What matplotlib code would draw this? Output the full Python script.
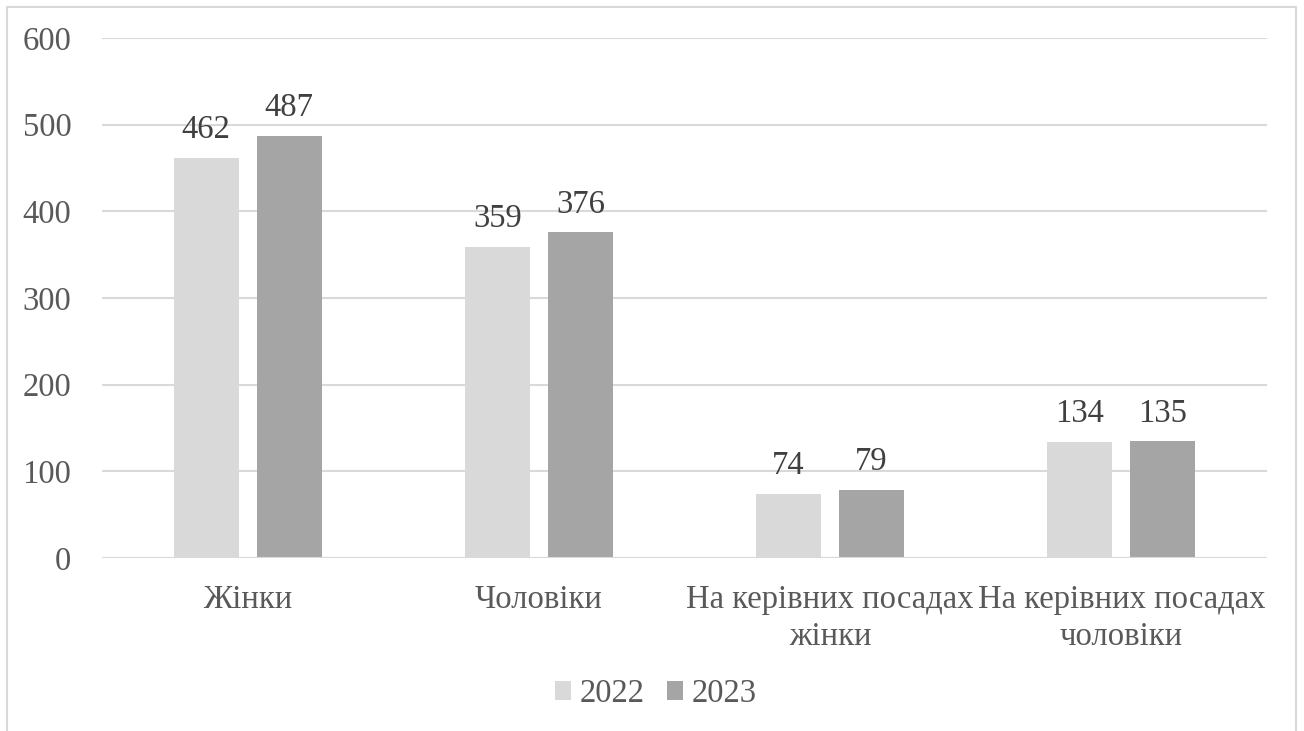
import matplotlib
matplotlib.use("Agg")
import matplotlib.pyplot as plt
import numpy as np
from matplotlib.patches import Rectangle

categories = ["Жінки", "Чоловіки", "На керівних посадах\nжінки", "На керівних посадах\nчоловіки"]
series_names = ["2022", "2023"]
values_2022 = [462, 359, 74, 134]
values_2023 = [487, 376, 79, 135]
yticks = [0, 100, 200, 300, 400, 500, 600]

plt.rcParams['font.family'] = ['Liberation Serif', 'DejaVu Serif']
txt = '#595959'
fs = 23.5
fig = plt.figure(figsize=(13.04, 7.31), dpi=100)
fig.patches.append(Rectangle((7/1304, -0.01), (1296-7)/1304, 1 - 7/731 + 0.01,
                             transform=fig.transFigure, fill=False, edgecolor='#D9D9D9', linewidth=1.5))
ax = fig.add_axes([102/1304, 1 - 558/731, (1267-102)/1304, (558-38)/731])

x = np.arange(len(categories))
w = 0.223
off = 0.1425
b1 = ax.bar(x - off, values_2022, w, color='#D9D9D9', label=series_names[0], zorder=3)
b2 = ax.bar(x + off, values_2023, w, color='#A5A5A5', label=series_names[1], zorder=3)
for bars, vals in ((b1, values_2022), (b2, values_2023)):
    for r, v in zip(bars, vals):
        ax.annotate(str(v), (r.get_x() + r.get_width()/2, v), xytext=(0, 9), textcoords='offset points',
                    ha='center', va='bottom', fontsize=fs, color='#404040')

ax.set_xlim(-0.5, 3.5)
ax.set_ylim(0, 600)
ax.set_yticks(yticks)
ax.set_yticklabels([str(t) for t in yticks])
ax.set_xticks(x)
ax.set_xticklabels(categories, linespacing=1.3)
ax.tick_params(axis='both', length=0, labelsize=fs, labelcolor=txt)
ax.tick_params(axis='y', pad=22)
ax.tick_params(axis='x', pad=19)
ax.grid(axis='y', color='#D9D9D9', linewidth=1.5, zorder=0)
for s in ax.spines.values():
    s.set_visible(False)
ax.axhline(0, color='#D9D9D9', linewidth=1.5, zorder=4)

leg = fig.legend(handles=[b1, b2], labels=series_names, loc='center', bbox_to_anchor=(656/1304, 1 - 694/731),
                 ncol=2, frameon=False, fontsize=fs, handlelength=0.49, handleheight=0.49,
                 handletextpad=0.25, columnspacing=0.7)
for t in leg.get_texts():
    t.set_color(txt)

fig.savefig("out.png", dpi=100)
